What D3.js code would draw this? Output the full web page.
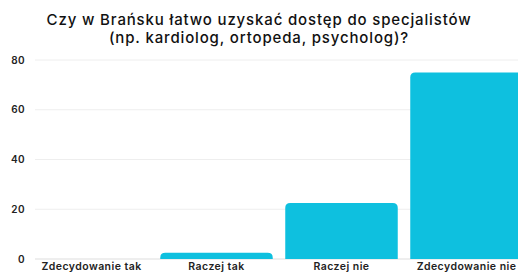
<!DOCTYPE html>
<html>
<head>
<script src="https://d3js.org/d3.v7.min.js"></script>
<style>
body { margin: 0; background: #fff; }
text { font-family: Inter, "Open Sans", sans-serif; }
</style>
</head>
<body>
<div id="viz"></div>
<script>
// answers and percent of respondents
var categories = ["Zdecydowanie tak", "Raczej tak", "Raczej nie", "Zdecydowanie nie"];
var values = [0, 2.5, 22.5, 75];
var yTicks = [0, 20, 40, 60, 80];
var titleLines = ["Czy w Brańsku łatwo uzyskać dostęp do specjalistów", "(np. kardiolog, ortopeda, psycholog)?"];

var width = 518, height = 273;

var svg = d3.select("#viz").append("svg")
    .attr("width", width)
    .attr("height", height);

var x = d3.scaleBand().domain(categories).range([29, 529]).paddingInner(0.1).paddingOuter(0.05);
var y = d3.scaleLinear().domain([0, 80]).range([259, 60]);

// title
svg.selectAll(".title").data(titleLines).enter().append("text")
    .attr("x", 259)
    .attr("y", function(d, i) { return 25 + i * 18; })
    .attr("text-anchor", "middle")
    .style("font-size", "15px")
    .style("letter-spacing", "0.85px")
    .style("font-weight", 500)
    .style("fill", "#111")
    .text(function(d) { return d; });

// grid
svg.selectAll(".grid").data(yTicks).enter().append("line")
    .attr("x1", 35).attr("x2", width)
    .attr("y1", function(d) { return y(d); })
    .attr("y2", function(d) { return y(d); })
    .style("stroke", function(d) { return d == 0 ? "#ddd" : "#eee"; })
    .style("stroke-width", 1);

svg.selectAll(".ytick").data(yTicks).enter().append("text")
    .attr("x", 25)
    .attr("y", function(d) { return y(d) + 3.5; })
    .attr("text-anchor", "end")
    .style("font-size", "10px")
    .style("letter-spacing", "0.4px")
    .style("font-weight", 600)
    .style("fill", "#222")
    .text(function(d) { return d; });

// bars with rounded top
function barPath(d, i) {
    var x0 = x(categories[i]), w = x.bandwidth();
    var top = y(d), bot = y(0);
    var r = Math.min(5, bot - top);
    if (bot - top <= 0) return "";
    return "M" + x0 + "," + bot +
        "V" + (top + r) +
        "Q" + x0 + "," + top + " " + (x0 + r) + "," + top +
        "H" + (x0 + w - r) +
        "Q" + (x0 + w) + "," + top + " " + (x0 + w) + "," + (top + r) +
        "V" + bot + "Z";
}
svg.selectAll(".bar").data(values).enter().append("path")
    .attr("d", barPath)
    .style("fill", "#0ec0df");

svg.selectAll(".xlab").data(categories).enter().append("text")
    .attr("x", function(d) { return x(d) + x.bandwidth() / 2; })
    .attr("y", 269.5)
    .attr("text-anchor", "middle")
    .style("font-size", "10.5px")
    .style("letter-spacing", "0.45px")
    .style("font-weight", 600)
    .style("fill", "#222")
    .text(function(d) { return d; });
</script>
</body>
</html>
